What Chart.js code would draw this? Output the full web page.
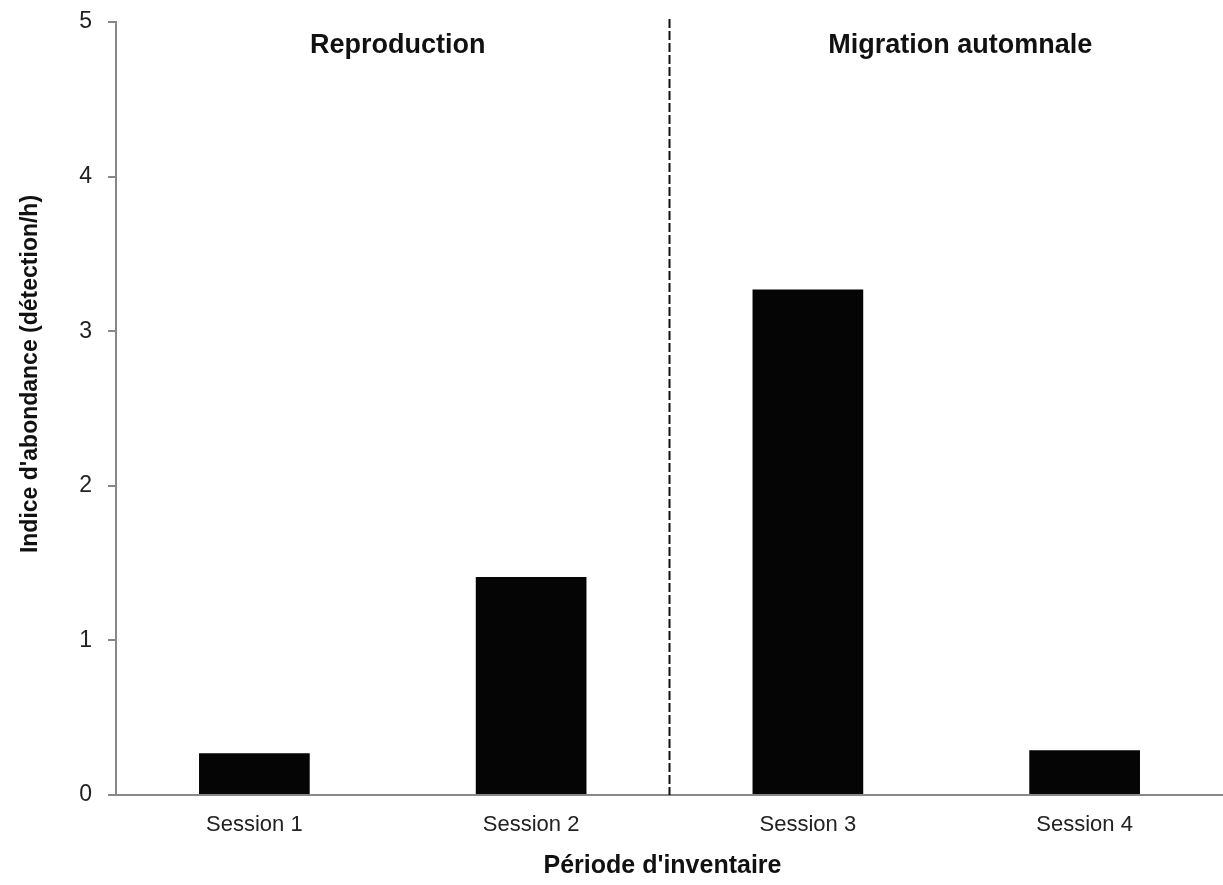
<!DOCTYPE html>
<html>
<head>
<meta charset="utf-8">
<script src="https://cdn.jsdelivr.net/npm/chart.js@4/dist/chart.umd.min.js"></script>
<style>
  html, body { margin: 0; padding: 0; background: #fff; }
  #wrap { width: 1223px; height: 885px; }
</style>
</head>
<body>
<div id="wrap"><canvas id="c" width="1223" height="885"></canvas></div>
<script>
const sessions = ["Session 1", "Session 2", "Session 3", "Session 4"];
const abondance = [0.27, 1.41, 3.27, 0.29];
const yTicks = [0, 1, 2, 3, 4, 5];
const periodes = ["Reproduction", "Migration automnale"];
const yTitle = "Indice d'abondance (détection/h)";
const xTitle = "Période d'inventaire";

const regular = '"Liberation Sans", Arial, sans-serif';
const bold = '"Liberation Sans", Arial, sans-serif';

// dashed separator, period labels and axis titles
const extras = {
    id: 'extras',
    afterDraw(chart) {
        const ctx = chart.ctx;
        const x = chart.scales.x, y = chart.scales.y;
        const area = chart.chartArea;
        const sep = (x.getPixelForValue(1) + x.getPixelForValue(2)) / 2;
        ctx.save();
        ctx.strokeStyle = '#111';
        ctx.lineWidth = 2;
        ctx.setLineDash([9, 3]);
        ctx.beginPath();
        ctx.moveTo(sep, y.getPixelForValue(5) - 3);
        ctx.lineTo(sep, area.bottom);
        ctx.stroke();
        ctx.setLineDash([]);

        ctx.fillStyle = '#111';
        ctx.font = 'bold 27px ' + bold;
        ctx.textAlign = 'center';
        ctx.textBaseline = 'alphabetic';
        ctx.fillText(periodes[0], (x.getPixelForValue(0) + x.getPixelForValue(1)) / 2 + 5, 53);
        ctx.fillText(periodes[1], (x.getPixelForValue(2) + x.getPixelForValue(3)) / 2 + 14, 53);

        ctx.font = 'bold 25px ' + bold;
        ctx.textBaseline = 'middle';
        ctx.fillText(xTitle, (area.left + area.right) / 2 - 7, 866);

        ctx.translate(31, 374);
        ctx.rotate(-Math.PI / 2);
        ctx.font = 'bold 23px ' + bold;
        ctx.fillText(yTitle, 0, 0);
        ctx.restore();
    }
};

new Chart(document.getElementById('c'), {
    type: 'bar',
    data: {
        labels: sessions,
        datasets: [{
            data: abondance,
            backgroundColor: '#050505',
            borderWidth: 0,
            barPercentage: 0.4,
            categoryPercentage: 1.0
        }]
    },
    options: {
        responsive: false,
        animation: false,
        layout: { padding: { top: 22, right: 0, left: 0, bottom: 0 } },
        plugins: { legend: { display: false }, tooltip: { enabled: false } },
        scales: {
            x: {
                grid: { display: false, drawTicks: false },
                border: { color: '#888', width: 2 },
                ticks: { color: '#222', font: { family: regular, size: 22 }, padding: 17, maxRotation: 0 },
                afterFit(s) { s.height = 90; s.paddingLeft = 0; s.paddingRight = 0; }
            },
            y: {
                min: 0, max: 5,
                afterBuildTicks(s) { s.ticks = yTicks.map(v => ({ value: v })); },
                grid: { drawOnChartArea: false, drawTicks: true, tickLength: 8, color: '#888', lineWidth: 2 },
                border: { color: '#888', width: 2 },
                ticks: { color: '#222', font: { family: regular, size: 23 }, padding: 16 },
                afterFit(s) { s.width = 116; s.paddingTop = 0; s.paddingBottom = 0; }
            }
        }
    },
    plugins: [extras]
});
</script>
</body>
</html>
